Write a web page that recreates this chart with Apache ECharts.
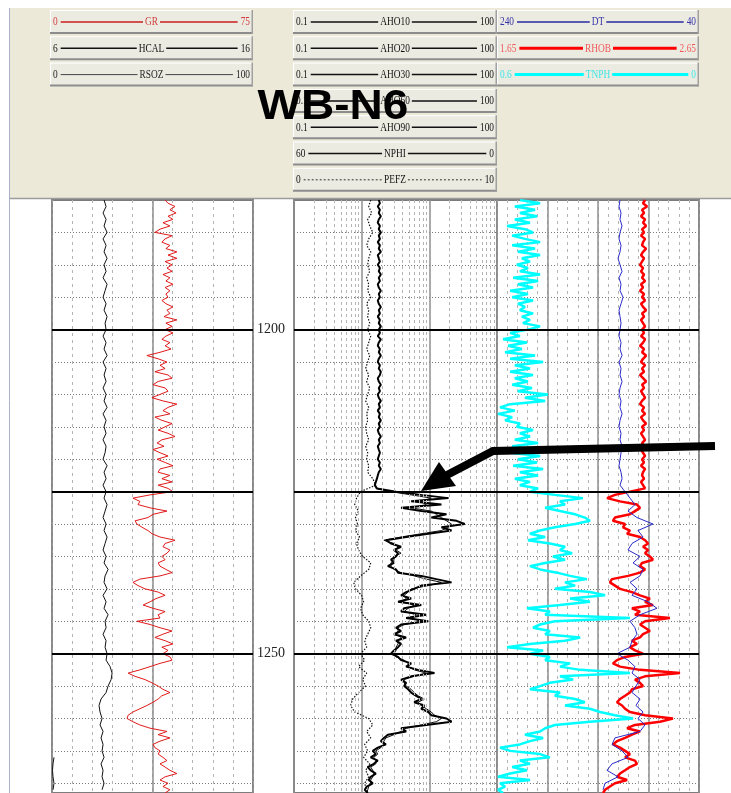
<!DOCTYPE html>
<html><head><meta charset="utf-8">
<script src="https://cdn.jsdelivr.net/npm/echarts@6/dist/echarts.min.js"></script>
<style>html,body{margin:0;padding:0;background:#fff}#c{width:731px;height:793px}</style>
</head><body><div id="c"></div>
<script>
// ---------- depth sampling ----------
const DEPTH_START = 1180, DEPTH_END = 1271.5;
const FINE_STEP = 0.5, COARSE_STEP = 1;
const DEPTH_TICK = 5;
const MAJOR_DEPTHS = [1200, 1225, 1250];
const LABELLED_DEPTHS = [1200, 1250];

// ---------- curve scales (header) ----------
const GR_SCALE = [0, 75];
const HCAL_SCALE = [6, 16];
const RSOZ_SCALE = [0, 100];
const AHO_SCALE = [0.1, 100];
const NPHI_SCALE = [60, 0];
const PEFZ_SCALE = [0, 10];
const DT_SCALE = [240, 40];
const RHOB_SCALE = [1.65, 2.65];
const TNPH_SCALE = [0.6, 0];

// ---------- curve values ----------
// GR (API), every 0.5 from 1180
const GR = [42.2,43.3,45.9,44.0,46.3,43.3,45.1,41.4,44.0,40.3,
38.4,44.8,42.2,41.0,44.0,42.5,46.6,43.3,46.6,42.2,
44.8,42.9,44.8,41.4,44.0,42.5,45.1,42.2,44.0,42.5,
43.3,41.0,42.5,45.1,42.9,44.0,41.8,46.6,42.5,44.8,
42.2,45.1,42.5,41.0,44.0,42.2,44.4,40.3,35.4,39.6,
42.9,40.3,42.2,38.4,43.3,44.8,39.6,37.7,42.2,43.3,
40.3,37.3,41.4,46.6,43.3,41.4,44.0,38.4,41.0,44.8,
42.2,39.6,43.3,45.9,41.0,39.2,41.8,37.7,40.3,43.3,
39.2,42.2,45.1,40.3,39.6,44.0,41.0,44.8,39.6,43.3,
45.1,36.6,30.2,32.8,32.1,36.6,42.9,37.7,35.8,31.0,
31.7,33.6,35.8,37.3,40.3,45.9,42.2,41.4,44.0,42.9,
41.0,42.2,39.6,40.3,42.5,44.8,40.3,32.8,30.2,32.1,
34.7,39.6,42.2,38.8,36.6,34.0,37.7,42.2,39.6,40.3,
31.7,36.6,40.3,44.8,41.4,38.4,42.2,45.1,41.0,43.3,
41.4,44.0,44.8,40.3,36.6,32.8,28.4,31.0,34.7,37.3,
39.6,41.4,44.0,41.0,39.6,37.7,35.4,32.8,30.2,28.4,
28.0,30.2,32.8,36.6,42.9,39.6,44.0,40.3,37.7,38.4,
40.3,39.6,41.4,42.9,40.3,42.2,44.0,46.6,42.2,40.3,
43.3,41.4,44.0,42.2];
// HCAL (in), every 1 from 1180
const HCAL = [8.59,8.69,8.54,8.69,8.59,8.74,8.54,8.69,8.59,8.74,
8.59,8.69,8.54,8.74,8.64,8.54,8.69,8.59,8.74,8.64,
8.69,8.54,8.69,8.59,8.74,8.54,8.69,8.59,8.69,8.54,
8.69,8.59,8.74,8.54,8.69,8.59,8.69,8.54,8.69,8.64,
8.54,8.74,8.59,8.69,8.54,8.69,8.59,8.74,8.64,8.54,
8.69,8.59,8.74,8.64,8.54,8.69,8.59,8.79,8.64,8.59,
8.74,8.54,8.69,8.59,8.79,8.64,8.69,8.54,8.69,8.64,
8.74,8.69,8.89,8.99,8.94,8.79,8.69,8.44,8.34,8.39,
8.49,8.39,8.54,8.44,8.54,8.49,8.59,8.44,8.54,8.49,
8.59,8.49];
// RSOZ, every 1 from 1266
const RSOZ_START = 1266;
const RSOZ = [1.0,0.5,0.25,0.5,1.0,0.5];
// AHO90 (ohm.m), every 0.5 from 1180
const AHO90 = [1.79,1.86,1.73,1.86,1.79,1.92,1.79,1.73,1.86,1.79,
1.92,1.79,1.86,1.73,1.86,1.79,1.92,1.73,1.79,1.86,
1.73,1.86,1.79,1.92,1.79,1.86,1.73,1.79,1.92,1.79,
1.86,1.73,1.79,1.92,1.79,1.86,1.73,1.86,1.79,1.92,
1.79,1.86,1.73,1.92,1.79,1.73,1.86,1.79,1.92,1.79,
1.73,1.86,1.79,1.92,1.86,1.73,1.79,1.92,1.79,1.86,
1.73,1.79,1.92,1.79,1.86,1.73,1.86,1.79,1.92,1.79,
1.86,1.73,1.79,1.92,1.79,1.86,1.73,1.79,1.86,1.79,
1.73,1.86,1.79,1.92,1.79,1.73,1.68,1.62,1.56,1.68,
3.22,7.60,19.2,5.39,15.1,3.82,7.60,17.9,10.7,25.3,
33.3,15.1,21.3,9.66,4.54,2.28,2.71,3.82,3.00,3.45,
3.22,2.71,3.00,2.44,3.22,3.45,7.60,12.7,21.3,7.60,
5.97,4.54,3.82,5.39,3.45,7.60,4.24,3.82,9.02,4.54,
9.66,3.82,3.22,3.82,3.00,4.54,3.22,3.82,3.45,3.00,
2.71,3.45,3.82,5.39,4.54,6.85,11.9,5.39,3.82,4.54,
4.24,4.86,5.39,6.40,7.60,5.97,8.42,7.60,9.66,10.7,
17.9,21.3,9.02,3.82,4.54,2.44,2.13,1.92,2.28,1.73,
1.46,1.62,1.36,1.73,1.51,1.23,1.36,1.62,1.36,1.27,
1.46,1.19,1.11,1.23];
// AHO10 (ohm.m), every 0.5 from 1224.5
const AHO10_START = 1224.5;
const AHO10 = [1.62,2.71,5.39,10.7,7.60,9.02,5.39,10.7,12.7,15.1,
17.9,21.3,19.2,15.1,7.60,3.82,2.13,3.00,3.45,3.22,
3.82,3.00,3.00,2.71,2.71,3.00,3.82,5.97,9.02,15.1,
9.66,5.39,4.86,4.24,4.54,3.82,5.97,4.86,4.24,6.40,
5.39,7.60,4.24,3.45,3.45,3.22,3.82,3.45,3.45,3.22,
3.22,3.00,3.22,4.24,4.86,4.86,5.97,9.02,5.97,4.24,
4.24,4.54,5.39,5.97,6.85,8.42,6.85,7.60,9.02,10.7,
11.9,15.1,12.7,7.60,4.54,3.82,3.00,2.28,2.13,2.13,
1.92,1.62,1.73,1.51,1.62,1.62,1.36,1.46,1.51,1.46,
1.36,1.36,1.27,1.23,1.19];
// PEFZ, every 1 from 1180
const PEFZ = [3.78,3.68,3.83,3.63,3.73,3.88,3.68,3.58,3.78,3.68,
3.63,3.73,3.58,3.68,3.63,3.78,3.58,3.68,3.63,3.73,
3.63,3.78,3.68,3.58,3.73,3.63,3.53,3.68,3.58,3.73,
3.63,3.53,3.68,3.58,3.63,3.53,3.58,3.68,3.53,3.63,
3.58,3.68,3.63,3.88,4.03,3.28,3.08,2.99,3.18,3.03,
3.13,3.03,3.23,3.08,3.18,3.38,3.78,3.68,3.28,2.94,
3.03,3.33,3.43,3.28,3.38,3.68,3.78,3.63,3.48,3.58,
3.28,3.48,3.18,3.58,3.38,3.53,3.18,2.89,2.79,2.99,
3.68,3.88,3.58,3.78,3.48,3.63,3.43,3.73,3.53,3.68,
3.48,3.58];
// DT (us/ft), every 1 from 1180
const DT = [118.2,119.2,117.2,118.2,116.2,118.2,119.2,117.2,118.2,120.2,
118.2,116.2,119.2,117.2,118.2,115.2,117.2,119.2,118.2,117.2,
118.2,119.2,117.2,118.2,116.2,119.2,117.2,118.2,116.2,118.2,
119.2,117.2,118.2,116.2,118.2,119.2,117.2,118.2,116.2,117.2,
118.2,119.2,117.2,116.2,118.2,113.3,108.3,103.4,110.3,101.4,
85.5,100.4,95.4,106.3,110.3,98.4,105.3,95.4,98.4,108.3,
101.4,106.3,90.5,81.6,98.4,108.3,103.4,101.4,106.3,108.3,
121.2,110.3,103.4,106.3,98.4,102.4,106.3,98.4,102.4,95.4,
100.4,93.5,98.4,123.2,126.1,116.2,110.3,126.1,131.1,120.2,
133.1,135.0];
// RHOB (g/cc), every 0.5 from 1180
const RHOB = [2.383,2.373,2.393,2.368,2.378,2.363,2.383,2.373,2.388,2.368,
2.378,2.363,2.383,2.373,2.368,2.388,2.373,2.363,2.378,2.368,
2.358,2.373,2.363,2.378,2.368,2.383,2.363,2.373,2.358,2.378,
2.368,2.383,2.363,2.373,2.388,2.368,2.378,2.363,2.373,2.383,
2.368,2.378,2.363,2.383,2.373,2.358,2.378,2.368,2.388,2.373,
2.363,2.383,2.368,2.378,2.358,2.373,2.388,2.368,2.378,2.363,
2.373,2.383,2.368,2.358,2.378,2.368,2.383,2.363,2.373,2.388,
2.368,2.378,2.363,2.373,2.383,2.368,2.378,2.363,2.373,2.383,
2.368,2.378,2.363,2.383,2.373,2.368,2.378,2.363,2.373,2.383,
2.308,2.234,2.195,2.259,2.343,2.358,2.333,2.308,2.234,2.224,
2.284,2.274,2.308,2.294,2.358,2.383,2.398,2.373,2.398,2.383,
2.407,2.422,2.368,2.358,2.383,2.358,2.299,2.219,2.209,2.234,
2.259,2.318,2.358,2.407,2.383,2.422,2.318,2.358,2.333,2.506,
2.383,2.358,2.383,2.407,2.373,2.358,2.318,2.343,2.308,2.333,
2.373,2.284,2.244,2.224,2.259,2.358,2.556,2.383,2.333,2.358,
2.373,2.318,2.308,2.284,2.259,2.244,2.269,2.284,2.308,2.383,
2.521,2.457,2.333,2.294,2.358,2.318,2.284,2.244,2.224,2.259,
2.284,2.308,2.284,2.333,2.343,2.308,2.284,2.259,2.244,2.294,
2.234,2.209,2.185,2.175];
// TNPH (v/v), every 0.5 from 1180
const TNPH = [.532,.472,.547,.487,.532,.481,.547,.502,.570,.517,
.493,.555,.517,.472,.555,.487,.538,.472,.526,.502,
.541,.508,.532,.472,.552,.478,.538,.493,.561,.508,
.555,.493,.538,.517,.532,.493,.526,.502,.523,.472,
.508,.561,.532,.582,.511,.567,.526,.576,.487,.561,
.463,.547,.502,.561,.493,.547,.508,.555,.496,.538,
.449,.517,.457,.561,.591,.547,.597,.555,.576,.532,
.541,.493,.532,.502,.547,.478,.555,.502,.561,.472,
.538,.481,.552,.463,.532,.478,.547,.502,.532,.478,
.502,.428,.345,.413,.398,.457,.413,.368,.339,.324,
.368,.428,.472,.502,.457,.508,.443,.398,.413,.377,
.434,.398,.457,.502,.472,.422,.383,.333,.398,.368,
.428,.324,.279,.383,.324,.413,.511,.443,.457,.205,
.428,.472,.493,.443,.457,.353,.398,.502,.570,.463,
.502,.443,.457,.383,.413,.353,.205,.413,.374,.443,
.472,.502,.413,.428,.368,.339,.398,.324,.294,.250,
.196,.324,.428,.457,.472,.517,.463,.502,.532,.591,
.561,.472,.443,.532,.502,.555,.511,.561,.597,.502,
.591,.576,.597,.582];

// ---------- helpers ----------
function pairs(values, start, step) { return values.map((v, i) => [v, start + i * step]); }
function rangeAxis(scale, grid, extra) {
  const lo = Math.min(scale[0], scale[1]), hi = Math.max(scale[0], scale[1]);
  return Object.assign({ type: 'value', gridIndex: grid, min: lo, max: hi, inverse: scale[0] > scale[1], show: false }, extra || {});
}
function gridAxis(grid, max, interval, color, type, width) {
  return { type: 'value', gridIndex: grid, min: 0, max: max, interval: interval,
    axisLine: { show: false }, axisTick: { show: false }, axisLabel: { show: false },
    splitLine: { show: true, lineStyle: { color: color, type: type, width: width } } };
}
const BASE = { type: 'line', showSymbol: false, symbol: 'none', animation: false, silent: true, clip: true };
function curve(name, xi, yi, data, color, width, type, z) {
  return Object.assign({}, BASE, { name, xAxisIndex: xi, yAxisIndex: yi, data, z: z || 3,
    lineStyle: { color, width, type: type || 'solid' }, itemStyle: { color } });
}
function overlay(xi, yi, extraLines) {
  const majors = MAJOR_DEPTHS.map(d => ({ yAxis: d, lineStyle: { color: '#000', width: 2, type: 'solid' } }));
  return Object.assign({}, BASE, { name: 'grid' + yi, xAxisIndex: xi, yAxisIndex: yi, data: [], z: 1,
    markLine: { silent: true, symbol: ['none', 'none'], label: { show: false }, animation: false,
      data: (extraLines || []).concat(majors) } });
}

const TOP = 200, H = 593;
const grids = [
  { left: 52, top: TOP, width: 201, height: H },
  { left: 294, top: TOP, width: 203, height: H },
  { left: 497, top: TOP, width: 202, height: H }
].map(g => Object.assign(g, { show: true, backgroundColor: '#fff', borderColor: '#7c7c7c', borderWidth: 2, containLabel: false }));

const MINOR = '#b4b4b4', MAJOR = '#8e8e8e';
const xAxes = [
  gridAxis(0, 10, 1, MINOR, [3, 4], 1),          // 0
  gridAxis(0, 10, 5, MAJOR, 'solid', 1.5),       // 1
  rangeAxis(GR_SCALE, 0),                        // 2
  rangeAxis(HCAL_SCALE, 0),                      // 3
  rangeAxis(RSOZ_SCALE, 0),                      // 4
  { type: 'log', logBase: 10, gridIndex: 1, min: AHO_SCALE[0], max: AHO_SCALE[1],
    axisLine: { show: false }, axisTick: { show: false }, axisLabel: { show: false },
    splitLine: { show: true, lineStyle: { color: MAJOR, width: 1.5 } } },      // 5
  rangeAxis(PEFZ_SCALE, 1),                      // 6
  gridAxis(2, 20, 1, MINOR, [3, 4], 1),          // 7
  gridAxis(2, 4, 1, MAJOR, 'solid', 1.5),        // 8
  rangeAxis(DT_SCALE, 2),                        // 9
  rangeAxis(RHOB_SCALE, 2),                      // 10
  rangeAxis(TNPH_SCALE, 2)                       // 11
];
const yAxes = [0, 1, 2].map(g => ({
  type: 'value', gridIndex: g, min: DEPTH_START, max: DEPTH_END, interval: DEPTH_TICK, inverse: true,
  position: 'right',
  axisLine: { show: false }, axisTick: { show: false },
  axisLabel: g === 0 ? { show: true, margin: 4, color: '#222', fontSize: 14, fontFamily: '"Liberation Serif", "Times New Roman", serif',
    formatter: v => LABELLED_DEPTHS.indexOf(v) >= 0 ? String(v) : '' } : { show: false },
  splitLine: { show: true, lineStyle: { color: '#7a7a7a', type: [1, 2], width: 1 } }
}));

const logMinor = [];
[0.1, 1, 10].forEach(dec => { for (let m = 2; m <= 9; m++) logMinor.push({ xAxis: +(m * dec).toFixed(3), lineStyle: { color: MINOR, type: [3, 3], width: 1 } }); });

const series = [
  overlay(2, 0), overlay(5, 1, logMinor), overlay(11, 2),
  curve('HCAL', 3, 0, pairs(HCAL, DEPTH_START, COARSE_STEP), '#111', 1),
  curve('RSOZ', 4, 0, pairs(RSOZ, RSOZ_START, COARSE_STEP), '#111', 1),
  curve('GR', 2, 0, pairs(GR, DEPTH_START, FINE_STEP), '#e01a1a', 1),
  curve('PEFZ', 6, 1, pairs(PEFZ, DEPTH_START, COARSE_STEP), '#111', 1.2, [1.5, 1.5]),
  curve('AHO10', 5, 1, pairs(AHO10, AHO10_START, FINE_STEP), '#111', 1),
  curve('AHO90', 5, 1, pairs(AHO90, DEPTH_START, FINE_STEP), '#000', 2),
  curve('TNPH', 11, 2, pairs(TNPH, DEPTH_START, FINE_STEP), '#00ffff', 2.5),
  curve('DT', 9, 2, pairs(DT, DEPTH_START, COARSE_STEP), '#2a2ac8', 1, 'solid', 4),
  curve('RHOB', 10, 2, pairs(RHOB, DEPTH_START, FINE_STEP), '#ff0000', 2.5)
];

// ---------- header ----------
const HEADER_COLS = [{ x: 50, w: 203 }, { x: 293, w: 204 }, { x: 497, w: 202 }];
const ROW_TOP = 10, ROW_PITCH = 26.3, BOX_H = 24;
const HEADER = [
  { col: 0, row: 0, name: 'GR', scale: GR_SCALE, text: '#d23c3c', line: '#c81e1e', lw: 1.5 },
  { col: 0, row: 1, name: 'HCAL', scale: HCAL_SCALE, text: '#111', line: '#111', lw: 1.5 },
  { col: 0, row: 2, name: 'RSOZ', scale: RSOZ_SCALE, text: '#222', line: '#444', lw: 1 },
  { col: 1, row: 0, name: 'AHO10', scale: AHO_SCALE, text: '#111', line: '#111', lw: 1.5 },
  { col: 1, row: 1, name: 'AHO20', scale: AHO_SCALE, text: '#111', line: '#111', lw: 1.5 },
  { col: 1, row: 2, name: 'AHO30', scale: AHO_SCALE, text: '#111', line: '#111', lw: 1.5 },
  { col: 1, row: 3, name: 'AHO60', scale: AHO_SCALE, text: '#111', line: '#111', lw: 1.5 },
  { col: 1, row: 4, name: 'AHO90', scale: AHO_SCALE, text: '#111', line: '#111', lw: 1.5 },
  { col: 1, row: 5, name: 'NPHI', scale: NPHI_SCALE, text: '#111', line: '#111', lw: 1.5 },
  { col: 1, row: 6, name: 'PEFZ', scale: PEFZ_SCALE, text: '#111', line: '#333', lw: 1, dash: [2, 2] },
  { col: 2, row: 0, name: 'DT', scale: DT_SCALE, text: '#3535a8', line: '#2a2aa0', lw: 1.5 },
  { col: 2, row: 1, name: 'RHOB', scale: RHOB_SCALE, text: '#f05a5a', line: '#ff0000', lw: 3 },
  { col: 2, row: 2, name: 'TNPH', scale: TNPH_SCALE, text: '#3ce6e6', line: '#00ffff', lw: 3 }
];
const FS = 13, SX = 0.72, HFONT = FS + 'px "Liberation Serif", "Times New Roman", serif';
const mctx = document.createElement('canvas').getContext('2d');
mctx.font = HFONT;
const tw = s => mctx.measureText(s).width * SX;

const g = [];
g.push({ type: 'rect', shape: { x: 10, y: 8, width: 721, height: 190 }, style: { fill: '#ece9d8' }, z: 50 });
g.push({ type: 'line', shape: { x1: 10, y1: 198.5, x2: 731, y2: 198.5 }, style: { stroke: '#9c9c9c', lineWidth: 1.5 }, z: 51 });
g.push({ type: 'line', shape: { x1: 9.5, y1: 8, x2: 9.5, y2: 793 }, style: { stroke: '#aab2c8', lineWidth: 1 }, z: 51 });
function txt(x, y, s, color, align) {
  return { type: 'text', x: x, y: y, scaleX: SX, z: 54,
    style: { text: s, font: HFONT, fill: color, textAlign: align, textVerticalAlign: 'middle', align: align, verticalAlign: 'middle' } };
}
function seg(x1, x2, y, c) {
  return { type: 'line', z: 53, shape: { x1, y1: y, x2, y2: y },
    style: { stroke: c.line, lineWidth: c.lw, lineDash: c.dash || null } };
}
HEADER.forEach(c => {
  const col = HEADER_COLS[c.col];
  const x = col.x, w = col.w, y = ROW_TOP + c.row * ROW_PITCH, cy = y + BOX_H / 2;
  g.push({ type: 'rect', z: 52, shape: { x, y, width: w, height: BOX_H }, style: { fill: '#ecebe2' } });
  g.push({ type: 'line', z: 53, shape: { x1: x, y1: y + 0.5, x2: x + w, y2: y + 0.5 }, style: { stroke: '#ffffff', lineWidth: 1 } });
  g.push({ type: 'line', z: 53, shape: { x1: x + 0.5, y1: y, x2: x + 0.5, y2: y + BOX_H }, style: { stroke: '#ffffff', lineWidth: 1 } });
  g.push({ type: 'line', z: 53, shape: { x1: x, y1: y + BOX_H - 1, x2: x + w, y2: y + BOX_H - 1 }, style: { stroke: '#8c8c8c', lineWidth: 2 } });
  g.push({ type: 'line', z: 53, shape: { x1: x + w - 0.75, y1: y, x2: x + w - 0.75, y2: y + BOX_H }, style: { stroke: '#a0a0a0', lineWidth: 1.5 } });
  const lo = String(c.scale[0]), hi = String(c.scale[1]);
  const lx = x + 3, rx = x + w - 3, mx = x + w / 2;
  const lw = tw(lo), rw = tw(hi), nw = tw(c.name);
  g.push(txt(lx, cy, lo, c.text, 'left'));
  g.push(txt(rx, cy, hi, c.text, 'right'));
  g.push(txt(mx, cy, c.name, c.text, 'center'));
  g.push(seg(lx + lw + 3, mx - nw / 2 - 2, cy, c));
  g.push(seg(mx + nw / 2 + 2, rx - rw - 3, cy, c));
});
// title
g.push({ type: 'text', x: 333, y: 107, scaleX: 1.07, z: 60,
  style: { text: 'WB-N6', font: 'bold 43px "Liberation Sans", Arial, sans-serif', fill: '#000',
    textAlign: 'center', textVerticalAlign: 'middle', align: 'center', verticalAlign: 'middle' } });
// annotation arrow
g.push({ type: 'polyline', z: 60, shape: { points: [[715, 446], [493, 451], [447, 475]] },
  style: { stroke: '#000', lineWidth: 8, lineJoin: 'miter', fill: null } });
g.push({ type: 'polygon', z: 60, shape: { points: [[421, 491], [439, 462], [456, 486]] }, style: { fill: '#000' } });

const chart = echarts.init(document.getElementById('c'), null, { renderer: 'canvas' });
chart.setOption({
  backgroundColor: '#fff',
  animation: false,
  grid: grids,
  xAxis: xAxes,
  yAxis: yAxes,
  series: series,
  graphic: { elements: g }
});
</script>
</body></html>
